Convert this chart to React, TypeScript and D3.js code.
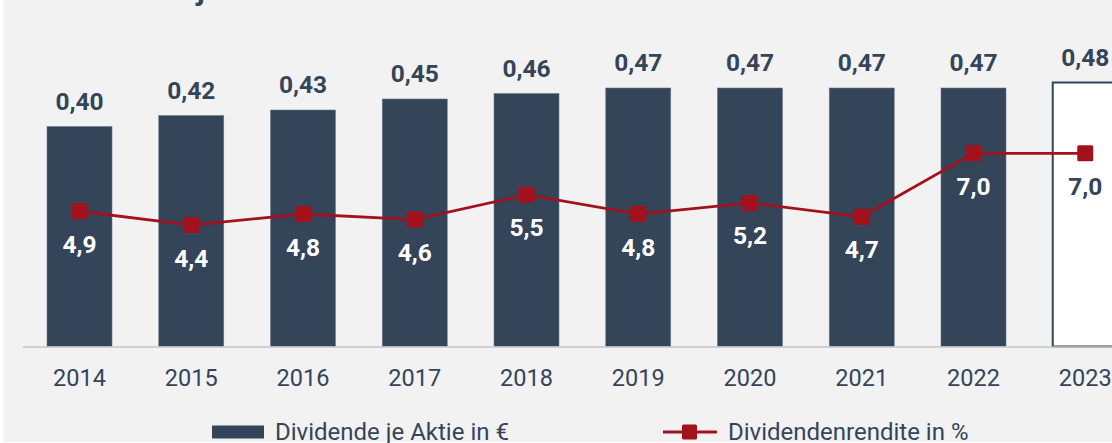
import React from "react";
import * as d3 from "d3";

const years = ["2014", "2015", "2016", "2017", "2018", "2019", "2020", "2021", "2022", "2023"];
const dividend = [0.40, 0.42, 0.43, 0.45, 0.46, 0.47, 0.47, 0.47, 0.47, 0.48];
const yieldPct = [4.9, 4.4, 4.8, 4.6, 5.5, 4.8, 5.2, 4.7, 7.0, 7.0];
const title = "Dividende je Aktie";
const legendBar = "Dividende je Aktie in €";
const legendLine = "Dividendenrendite in %";

const W = 1112;
const H = 443;
const NAVY = "#344459";
const RED = "#a3111d";
const FONT = "Roboto, 'Noto Sans', sans-serif";

export default function App() {
  const x = d3.scalePoint<string>().domain(years).range([79.5, 1085.25]);
  const y = d3.scaleLinear().domain([0, 0.6]).range([346.5, 16.5]);
  const y2 = d3.scaleLinear().domain([0, 12]).range([346.5, 15.3]);
  const bw = 65;
  const fmt2 = (v: number) => d3.format(".2f")(v).replace(".", ",");
  const fmt1 = (v: number) => d3.format(".1f")(v).replace(".", ",");
  const line = d3
    .line<number>()
    .x((_, i) => x(years[i]) as number)
    .y((d) => y2(d));
  const last = years.length - 1;

  return (
    <svg
      width={W}
      height={H}
      style={{ position: "absolute", left: 0, top: 0, display: "block" }}
      fontFamily={FONT}
    >
      <rect x={0} y={0} width={W} height={H} fill="#ffffff" />
      <rect x={3} y={0} width={W - 3} height={H - 1} fill="#f2f2f2" />
      <text x={56} y={-0.2} fontSize={30} fontWeight={700} fill={NAVY}>
        {title}
      </text>
      {/* bars */}
      {dividend.map((v, i) => {
        const cx = x(years[i]) as number;
        const isLast = i === last;
        return (
          <rect
            key={"b" + i}
            x={cx - bw / 2}
            y={y(v)}
            width={bw}
            height={y(0) - y(v)}
            fill={isLast ? "#ffffff" : NAVY}
            stroke={isLast ? NAVY : "#6f7b8c"}
            strokeWidth={isLast ? 2 : 0.6}
          />
        );
      })}
      {/* axis baseline */}
      <line x1={23} x2={W} y1={y(0) + 0.5} y2={y(0) + 0.5} stroke="#c5c5c5" strokeWidth={1.5} />
      {/* bar value labels */}
      {dividend.map((v, i) => (
        <text
          key={"bl" + i}
          x={x(years[i]) as number}
          y={y(v) - 17}
          textAnchor="middle"
          fontSize={24.5}
          fontWeight={700}
          fill={NAVY}
        >
          {fmt2(v)}
        </text>
      ))}
      {/* line */}
      <path d={line(yieldPct) || ""} fill="none" stroke={RED} strokeWidth={2.8} />
      {yieldPct.map((v, i) => (
        <rect
          key={"m" + i}
          x={(x(years[i]) as number) - 8}
          y={y2(v) - 8}
          width={16}
          height={16}
          rx={1.5}
          fill={RED}
        />
      ))}
      {yieldPct.map((v, i) => (
        <text
          key={"ml" + i}
          x={x(years[i]) as number}
          y={y2(v) + 41.5}
          textAnchor="middle"
          fontSize={24.5}
          fontWeight={700}
          fill={i === last ? NAVY : "#ffffff"}
        >
          {fmt1(v)}
        </text>
      ))}
      {/* x labels */}
      {years.map((yr) => (
        <text
          key={"x" + yr}
          x={x(yr) as number}
          y={386}
          textAnchor="middle"
          fontSize={23.5}
          fill={NAVY}
        >
          {yr}
        </text>
      ))}
      {/* legend */}
      <rect x={212} y={425.5} width={52} height={13} fill={NAVY} />
      <text x={275} y={440} fontSize={24} fill={NAVY}>
        {legendBar}
      </text>
      <line x1={663} x2={717} y1={432} y2={432} stroke={RED} strokeWidth={2.8} />
      <rect x={682} y={424.5} width={15} height={15} rx={1.5} fill={RED} />
      <text x={728} y={440} fontSize={24} fill={NAVY}>
        {legendLine}
      </text>
    </svg>
  );
}
